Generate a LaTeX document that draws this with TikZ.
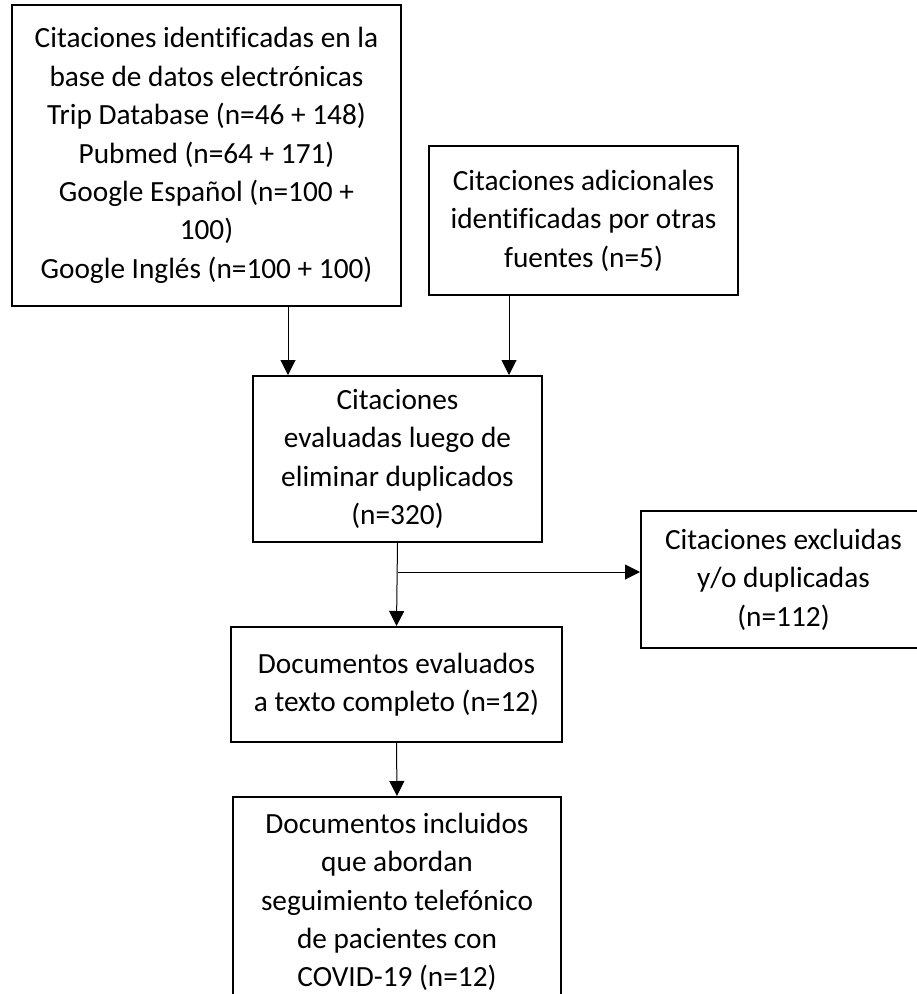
\documentclass[tikz,border=0pt]{standalone}
\usepackage{fontspec}
\setmainfont{Carlito}[Ligatures=NoCommon]
\usetikzlibrary{arrows.meta}

\begin{document}
\begin{tikzpicture}[x=1pt, y=-1pt, >={Triangle[length=15pt, width=15pt]},
    box/.style={draw, line width=2pt, align=center, inner sep=0pt,
        font=\fontsize{29.3}{38.4}\selectfont},
    arr/.style={->, line width=1pt}]
    % Page frame
    \useasboundingbox (0,0) rectangle (917,994);
    \clip (0,0) rectangle (917,994);

    % Sources
    \node[box, minimum width=389, minimum height=301] (db) at (206.5,155.5)
        {Citaciones identificadas en la\\ base de datos electrónicas\\
         Trip Database (n=46 + 148)\\ Pubmed (n=64 + 171)\\
         Google Español (n=100 +\\ 100)\\ Google Inglés (n=100 + 100)};
    \node[box, minimum width=309, minimum height=149] (other) at (583.5,220.5)
        {Citaciones adicionales\\ identificadas por otras\\ fuentes (n=5)};

    % Screening
    \node[box, minimum width=289, minimum height=166] (screen) at (397.5,459)
        {Citaciones\\ evaluadas luego de\\ eliminar duplicados\\ (n=320)};
    \node[box, minimum width=285, minimum height=137] (excl) at (783.5,579.5)
        {Citaciones excluidas\\ y/o duplicadas\\ (n=112)};

    % Full text and included
    \node[box, minimum width=331, minimum height=115] (full) at (396.5,684.5)
        {Documentos evaluados\\ a texto completo (n=12)};
    \node[box, minimum width=328, minimum height=210] (incl) at (397,902)
        {Documentos incluidos\\ que abordan\\ seguimiento telefónico\\
         de pacientes con\\ COVID-19 (n=12)};

    % Arrows
    \coordinate (in1) at ([xshift=36]screen.north west);
    \coordinate (in2) at ([xshift=-34]screen.north east);
    \draw[arr] (db.south -| in1) -- (in1);
    \draw[arr] (other.south -| in2) -- (in2);
    \coordinate (split) at (screen.south |- 0,572);
    \draw[arr] (screen.south) -- (full.north);
    \draw[arr] (split) -- (split -| excl.west);
    \draw[arr] (full.south) -- (incl.north);
\end{tikzpicture}
\end{document}
